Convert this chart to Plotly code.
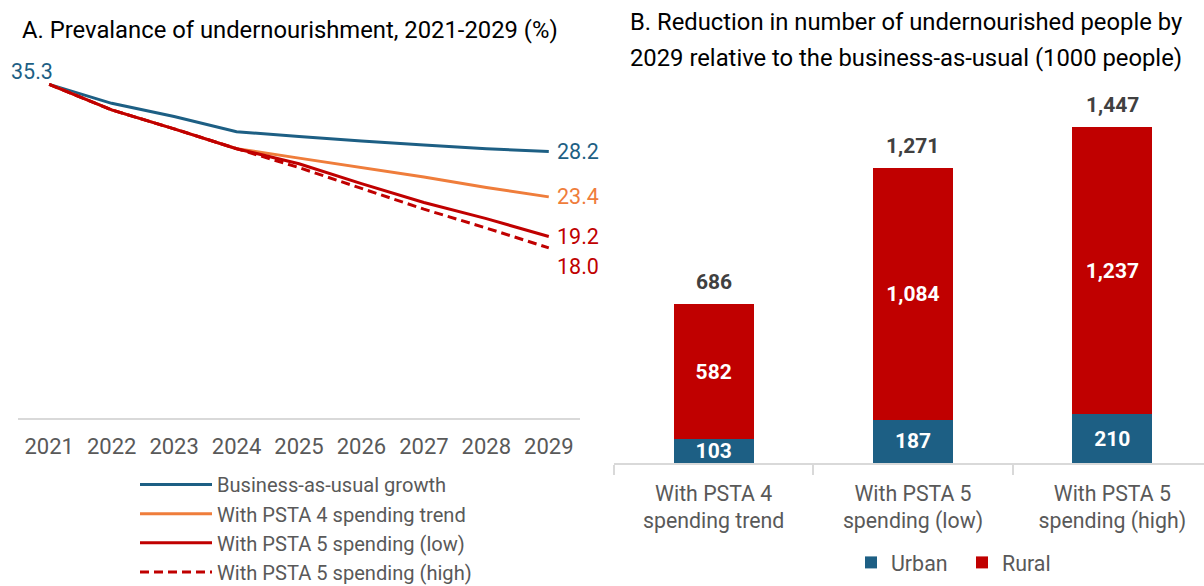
import plotly.graph_objects as go

# ---------------- data ----------------
years = ['2021', '2022', '2023', '2024', '2025', '2026', '2027', '2028', '2029']
bau = [35.3, 33.3, 31.9, 30.3, 29.8, 29.3, 28.9, 28.5, 28.2]
psta4 = [35.3, 32.6, 30.6, 28.5, 27.5, 26.5, 25.5, 24.4, 23.4]
psta5_low = [35.3, 32.6, 30.6, 28.5, 26.9, 24.8, 22.8, 21.1, 19.2]
psta5_high = [35.3, 32.6, 30.6, 28.5, 26.5, 24.3, 22.1, 20.1, 18.0]

scenarios = ['With PSTA 4<br>spending trend', 'With PSTA 5<br>spending (low)', 'With PSTA 5<br>spending (high)']
urban = [103, 187, 210]
rural = [582, 1084, 1237]
totals = [686, 1271, 1447]

# ---------------- style ----------------
BLUE = '#1d5f84'
ORANGE = '#ef7d3b'
RED = '#c00000'
GRAY = '#595959'
AXIS = '#d9d9d9'
FONT = 'Roboto'

W, H = 1204, 586
def px(x):
    return x / W
def py(y):
    return 1 - y / H

fig = go.Figure()

line_specs = [
    ('Business-as-usual growth', bau, BLUE, 'solid'),
    ('With PSTA 4 spending trend', psta4, ORANGE, 'solid'),
    ('With PSTA 5 spending (low)', psta5_low, RED, 'solid'),
    ('With PSTA 5 spending (high)', psta5_high, RED, '9px,5px'),
]
for name, vals, col, dash in line_specs:
    fig.add_trace(go.Scatter(
        x=years, y=vals, name=name, mode='lines',
        line=dict(color=col, width=3, dash=dash),
        xaxis='x', yaxis='y', legend='legend', hoverinfo='skip'))

bar_font = dict(color='white', size=21, family=FONT, weight='bold')
fig.add_trace(go.Bar(
    x=scenarios, y=urban, name='Urban', marker=dict(color=BLUE, line=dict(width=0)),
    width=0.4, text=[f'{v:,}' for v in urban], textposition='inside',
    insidetextanchor='middle', constraintext='none', textfont=bar_font,
    xaxis='x2', yaxis='y2', legend='legend2'))
fig.add_trace(go.Bar(
    x=scenarios, y=rural, name='Rural', marker=dict(color=RED, line=dict(width=0)),
    width=0.4, text=[f'{v:,}' for v in rural], textposition='inside',
    insidetextanchor='middle', constraintext='none', textfont=bar_font,
    xaxis='x2', yaxis='y2', legend='legend2'))

annotations = []
# line end labels (category axis: use category index)
annotations.append(dict(x=0, y=bau[0], xref='x', yref='y', text=f'{bau[0]:.1f}',
                        showarrow=False, xanchor='center', yanchor='middle', xshift=-17, yshift=13,
                        font=dict(color=BLUE, size=21.5, family=FONT)))
last = len(years) - 1
end_labels = [(bau, BLUE, 0), (psta4, ORANGE, 0), (psta5_low, RED, 0), (psta5_high, RED, -19)]
for vals, col, ys in end_labels:
    annotations.append(dict(x=last, y=vals[-1], xref='x', yref='y', text=f'{vals[-1]:.1f}',
                            showarrow=False, xanchor='left', yanchor='middle', xshift=6, yshift=ys,
                            font=dict(color=col, size=21.5, family=FONT)))
# bar totals
for i, t in enumerate(totals):
    annotations.append(dict(x=i, y=t, xref='x2', yref='y2', text=f'<b>{t:,}</b>', showarrow=False,
                            xanchor='center', yanchor='bottom', yshift=8,
                            font=dict(color='#404040', size=21, family=FONT)))
# titles
annotations.append(dict(x=px(20), y=py(30), xref='paper', yref='paper', xanchor='left', yanchor='middle',
                        text='A. Prevalance of undernourishment, 2021-2029 (%)', showarrow=False,
                        font=dict(color='black', size=23.8, family=FONT)))
annotations.append(dict(x=px(628), y=py(22), xref='paper', yref='paper', xanchor='left', yanchor='middle',
                        text='B. Reduction in number of undernourished people by', showarrow=False,
                        font=dict(color='black', size=23.8, family=FONT)))
annotations.append(dict(x=px(628), y=py(58), xref='paper', yref='paper', xanchor='left', yanchor='middle',
                        text='2029 relative to the business-as-usual (1000 people)', showarrow=False,
                        font=dict(color='black', size=23.8, family=FONT)))

fig.update_layout(
    width=W, height=H, margin=dict(l=0, r=0, t=0, b=0, autoexpand=False),
    paper_bgcolor='white', plot_bgcolor='white',
    font=dict(family=FONT, color=GRAY, size=21),
    barmode='stack', bargap=0.6,
    showlegend=True,
    xaxis=dict(domain=[px(18), px(580)], type='category', range=[-0.5, 8.5],
               showline=True, linecolor=AXIS, linewidth=2, ticks='', showgrid=False,
               tickfont=dict(size=22, color=GRAY, family=FONT), ticklabelstandoff=8,
               zeroline=False, fixedrange=True, automargin=False),
    yaxis=dict(domain=[py(418), py(40)], range=[0, 40], visible=False, fixedrange=True),
    xaxis2=dict(domain=[px(614), 1.0], type='category', range=[-0.5, 2.46], anchor='y2',
                showline=True, linecolor=AXIS, linewidth=2, ticks='outside', tickson='boundaries',
                ticklen=10, tickcolor=AXIS, tickwidth=2, showgrid=False,
                tickfont=dict(size=21.3, color=GRAY, family=FONT), ticklabelstandoff=10,
                fixedrange=True, automargin=False),
    yaxis2=dict(domain=[py(463), py(92)], range=[0, 1600], anchor='x2', visible=False, fixedrange=True),
    legend=dict(x=px(135), y=py(465), xanchor='left', yanchor='top', orientation='v',
                font=dict(size=20.1, color=GRAY, family=FONT), bgcolor='rgba(0,0,0,0)',
                itemwidth=72, tracegroupgap=0),
    legend2=dict(x=px(851), y=py(542), xanchor='left', yanchor='top', orientation='h',
                 font=dict(size=21.4, color=GRAY, family=FONT), bgcolor='rgba(0,0,0,0)',
                 itemwidth=30, traceorder='normal', entrywidth=66, entrywidthmode='pixels'),
    annotations=annotations,
)

fig.write_html('out.html')
